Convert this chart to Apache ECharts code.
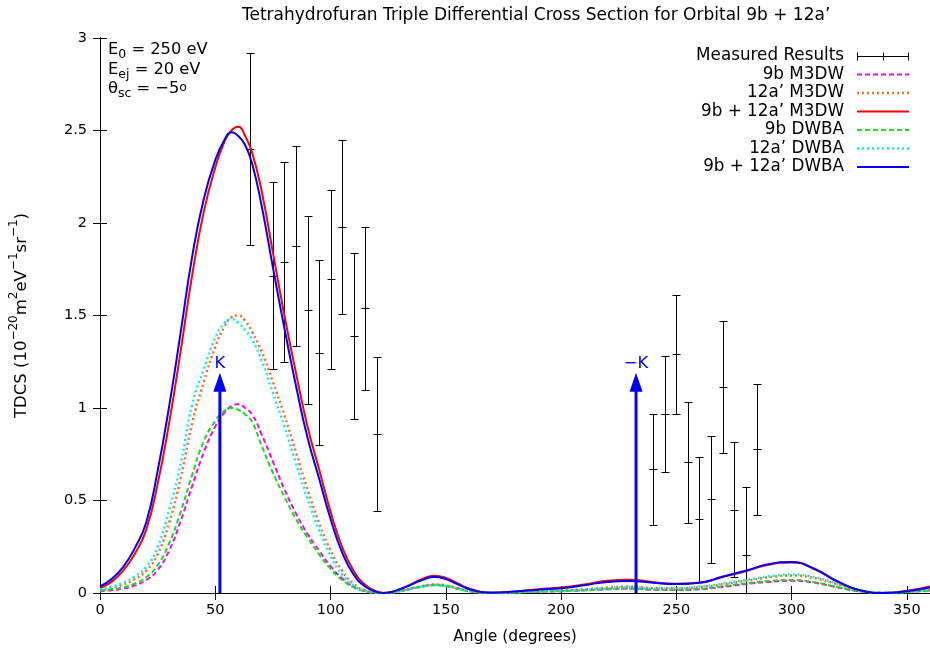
<!DOCTYPE html>
<html>
<head>
<meta charset="UTF-8">
<title>TDCS 9b + 12a'</title>
<style>
  html, body { margin: 0; padding: 0; background: #fff; }
  #main { width: 930px; height: 657px; }
</style>
</head>
<body>
<div id="main"></div>
<script src="https://cdn.jsdelivr.net/npm/echarts@6/dist/echarts.min.js"></script>
<script>
// theory grid (degrees)
var angles = [0,5,10,15,20,25,30,35,40,45,50,54,57,60,63,66,70,75,80,85,90,95,100,105,110,115,120,123,126,
  130,135,140,145,150,155,160,165,170,180,190,200,210,220,230,240,250,260,270,280,290,300,310,320,330,340,350,360];

var m3dw9b = [0.01,0.015,0.024,0.04,0.07,0.125,0.23,0.39,0.58,0.76,0.90,
  0.975,1.01,1.02,1.00,0.965,
  0.86,0.71,0.56,0.43,0.32,0.23,0.145,0.08,0.035,0.01,0.002,
  0.0,0.002,
  0.01,0.024,0.036,0.044,0.039,0.025,0.011,0.003,0.001,
  0.003,0.007,0.01,0.015,0.02,0.024,0.018,0.016,0.02,0.033,0.048,0.06,0.066,0.055,0.03,0.008,0.001,0.006,0.014];
var m3dw12a = [0.015,0.028,0.045,0.075,0.12,0.21,0.38,0.62,0.92,1.14,1.33,
  1.44,1.49,1.50,1.47,1.41,
  1.31,1.14,0.96,0.76,0.56,0.38,0.23,0.12,0.05,0.015,0.003,
  0.0,0.002,
  0.01,0.025,0.038,0.046,0.041,0.026,0.011,0.003,0.001,
  0.004,0.009,0.014,0.02,0.029,0.035,0.026,0.025,0.032,0.047,0.066,0.085,0.095,0.08,0.047,0.014,0.002,0.007,0.018];
var m3dwSum = [0.025,0.06,0.12,0.21,0.34,0.59,0.92,1.31,1.72,2.06,2.30,
  2.44,2.50,2.52,2.47,2.38,
  2.18,1.84,1.50,1.19,0.90,0.67,0.44,0.25,0.12,0.045,0.008,
  0.0,0.004,
  0.02,0.048,0.078,0.093,0.082,0.053,0.024,0.007,0.002,
  0.008,0.02,0.03,0.046,0.066,0.072,0.058,0.05,0.055,0.086,0.118,0.153,0.165,0.128,0.06,0.014,0.0,0.012,0.035];
var dwba9b = [0.015,0.02,0.03,0.05,0.085,0.15,0.27,0.44,0.64,0.82,0.93,
  0.985,1.00,0.99,0.965,0.925,
  0.80,0.65,0.52,0.40,0.30,0.21,0.13,0.07,0.03,0.008,0.001,
  0.0,0.003,
  0.01,0.022,0.035,0.042,0.037,0.023,0.01,0.003,0.001,
  0.003,0.007,0.01,0.014,0.02,0.024,0.018,0.018,0.022,0.036,0.052,0.065,0.07,0.058,0.032,0.008,0.001,0.005,0.012];
var dwba12a = [0.02,0.035,0.055,0.09,0.14,0.25,0.45,0.70,1.02,1.21,1.38,
  1.46,1.48,1.46,1.42,1.37,
  1.26,1.08,0.90,0.70,0.51,0.34,0.20,0.10,0.04,0.012,0.002,
  0.0,0.003,
  0.01,0.024,0.036,0.043,0.038,0.024,0.01,0.003,0.001,
  0.004,0.008,0.012,0.018,0.026,0.032,0.024,0.026,0.034,0.05,0.07,0.09,0.10,0.085,0.05,0.015,0.002,0.006,0.016];
var dwbaSum = [0.035,0.075,0.14,0.24,0.38,0.66,1.01,1.41,1.82,2.13,2.34,
  2.45,2.49,2.47,2.42,2.32,
  2.10,1.76,1.43,1.12,0.84,0.62,0.40,0.22,0.10,0.035,0.005,
  0.0,0.004,
  0.02,0.045,0.072,0.086,0.075,0.048,0.022,0.006,0.002,
  0.008,0.018,0.026,0.042,0.06,0.065,0.055,0.049,0.056,0.088,0.12,0.156,0.168,0.13,0.062,0.013,0.0,0.01,0.03];

// measured results
var measAngles = [65,75,80,85,90,95,100,105,110,115,120,240,245,250,255,260,265,270,275,280,285];
var measVals = [2.40,1.715,1.79,1.877,1.53,1.30,1.696,1.98,1.39,1.54,0.86,0.67,0.966,1.29,0.706,0.398,0.506,1.115,0.449,0.204,0.777];
var measErr = [0.52,0.505,0.54,0.54,0.51,0.50,0.485,0.47,0.45,0.44,0.417,0.30,0.314,0.32,0.326,0.337,0.345,0.357,0.365,0.369,0.353];

// K and -K directions
var kAngles = [52, 232.5];
var kHeights = [1.19, 1.19];
var kLabels = ['K', '\u2212K'];

var FONT = 'DejaVu Sans';

function pairs(vals) {
  return angles.map(function (a, i) { return [a, vals[i]]; });
}

function theory(name, vals, color, type, width) {
  return {
    name: name, type: 'line', data: pairs(vals), smooth: 0.5,
    symbol: 'none', clip: true, silent: true, animation: false,
    lineStyle: { color: color, width: width, type: type, cap: 'butt' }
  };
}

var myChart = echarts.init(document.getElementById('main'));

var axisCommon = {
  axisLine: { show: true, lineStyle: { color: '#000', width: 1 } },
  axisTick: { show: true, inside: true, length: 7, lineStyle: { color: '#000' } },
  splitLine: { show: false }
};

myChart.setOption({
  animation: false,
  title: {
    text: 'Tetrahydrofuran Triple Differential Cross Section for Orbital 9b + 12a\u2019',
    left: 237, top: 2,
    textStyle: { fontFamily: FONT, fontSize: 17, fontWeight: 'normal', color: '#000' }
  },
  grid: { left: 97, right: -2, top: 38, bottom: 64 },
  xAxis: [
    Object.assign({
      type: 'value', min: 0, max: 360, interval: 50, position: 'bottom',
      name: 'Angle (degrees)', nameLocation: 'middle', nameGap: 36,
      nameTextStyle: { fontFamily: FONT, fontSize: 15.5, color: '#000' },
      axisLabel: { fontFamily: FONT, fontSize: 14.5, color: '#000', margin: 10 }
    }, axisCommon),
    Object.assign({
      type: 'value', min: 0, max: 360, interval: 50, position: 'top',
      axisLabel: { show: false }
    }, axisCommon)
  ],
  yAxis: [
    Object.assign({
      type: 'value', min: 0, max: 3, interval: 0.5, position: 'left',
      name: '{n|TDCS (10}{s|\u221220}{n|m}{s|2}{n|eV}{s|\u22121}{n|sr}{s|\u22121}{n|)}',
      nameLocation: 'middle', nameGap: 70, nameRotate: 90,
      nameTextStyle: {
        fontFamily: FONT, color: '#000',
        rich: {
          n: { fontFamily: FONT, fontSize: 16.5, lineHeight: 22, verticalAlign: 'bottom', color: '#000' },
          s: { fontFamily: FONT, fontSize: 12, lineHeight: 13, verticalAlign: 'top', color: '#000' }
        }
      },
      axisLabel: { fontFamily: FONT, fontSize: 14.5, color: '#000', margin: 13 }
    }, axisCommon),
    Object.assign({
      type: 'value', min: 0, max: 3, interval: 0.5, position: 'right',
      axisLabel: { show: false }
    }, axisCommon)
  ],
  series: [
    {
      name: 'Measured Results', type: 'custom', clip: true, silent: true,
      data: measAngles.map(function (a, i) { return [a, measVals[i], measErr[i]]; }),
      renderItem: function (params, api) {
        var x = api.value(0), y = api.value(1), e = api.value(2);
        var c = api.coord([x, y]);
        var t = api.coord([x, y + e]);
        var b = api.coord([x, y - e]);
        var cx = Math.round(c[0]) + 0.5;
        var ty = Math.round(t[1]) + 0.5, by = Math.round(b[1]) + 0.5, cy = Math.round(c[1]) + 0.5;
        var st = { stroke: '#000', lineWidth: 1 };
        var w = 4;
        return {
          type: 'group',
          children: [
            { type: 'line', shape: { x1: cx, y1: ty, x2: cx, y2: by }, style: st },
            { type: 'line', shape: { x1: cx - w, y1: ty, x2: cx + w, y2: ty }, style: st },
            { type: 'line', shape: { x1: cx - w, y1: by, x2: cx + w, y2: by }, style: st },
            { type: 'line', shape: { x1: cx - w, y1: cy, x2: cx + w, y2: cy }, style: st }
          ]
        };
      }
    },
    theory('9b M3DW', m3dw9b, '#ff00ff', [5, 3], 2),
    theory('12a\u2019 M3DW', m3dw12a, '#ff6a1f', [2, 3], 2.5),
    theory('9b + 12a\u2019 M3DW', m3dwSum, '#ff0000', 'solid', 2),
    theory('9b DWBA', dwba9b, '#10e010', [5, 3], 2),
    theory('12a\u2019 DWBA', dwba12a, '#00f0ff', [2, 3], 2.5),
    theory('9b + 12a\u2019 DWBA', dwbaSum, '#0000ff', 'solid', 2),
    {
      name: 'K', type: 'custom', clip: false, silent: true, z: 5,
      data: kAngles.map(function (a, i) { return [a, kHeights[i], i]; }),
      renderItem: function (params, api) {
        var x = api.value(0), h = api.value(1), idx = api.value(2);
        var base = api.coord([x, 0]);
        var tip = api.coord([x, h]);
        var headH = 19, headW = 6.5;
        return {
          type: 'group',
          children: [
            { type: 'line', shape: { x1: base[0], y1: base[1], x2: tip[0], y2: tip[1] + headH - 2 },
              style: { stroke: '#0000ff', lineWidth: 3 } },
            { type: 'polygon', shape: { points: [[tip[0], tip[1]], [tip[0] - headW, tip[1] + headH], [tip[0] + headW, tip[1] + headH]] },
              style: { fill: '#0000ff' } },
            { type: 'text', x: tip[0], y: tip[1] - 1,
              style: { text: kLabels[idx], fill: '#0000ff', font: '16.5px "' + FONT + '"', align: 'center', verticalAlign: 'bottom' } }
          ]
        };
      }
    }
  ],
  graphic: [
    {
      type: 'text', left: 108, top: 42, z: 10,
      style: {
        text: '{n|E}{b|0}{n| = 250 eV}\n{n|E}{b|ej}{n| = 20 eV}\n{n|\u03b8}{b|sc}{n| = \u22125}{s|o}',
        fill: '#000',
        rich: {
          n: { fontFamily: FONT, fontSize: 16.3, lineHeight: 19.5, verticalAlign: 'top', fill: '#000' },
          b: { fontFamily: FONT, fontSize: 12.5, lineHeight: 12, verticalAlign: 'bottom', fill: '#000' },
          s: { fontFamily: FONT, fontSize: 12.5, lineHeight: 12, verticalAlign: 'top', fill: '#000' }
        }
      }
    }
  ].concat(buildLegend())
});

function buildLegend() {
  var items = [
    ['Measured Results', 'err', '#000', null, 1],
    ['9b M3DW', 'line', '#ff00ff', [5, 3], 2],
    ['12a\u2019 M3DW', 'line', '#ff6a1f', [2, 3], 2.5],
    ['9b + 12a\u2019 M3DW', 'line', '#ff0000', null, 2],
    ['9b DWBA', 'line', '#10e010', [5, 3], 2],
    ['12a\u2019 DWBA', 'line', '#00f0ff', [2, 3], 2.5],
    ['9b + 12a\u2019 DWBA', 'line', '#0000ff', null, 2]
  ];
  var out = [];
  var x0 = 857, x1 = 909, tx = 844, y0 = 56, dy = 18.5;
  items.forEach(function (it, i) {
    var y = y0 + i * dy;
    out.push({ type: 'text', x: tx, y: y, z: 10,
      style: { text: it[0], fill: '#000', font: '16.8px "' + FONT + '"', align: 'right', verticalAlign: 'middle' } });
    if (it[1] === 'err') {
      var st = { stroke: '#000', lineWidth: 1 };
      var yy = Math.round(y) + 0.5;
      out.push({ type: 'line', z: 10, shape: { x1: x0, y1: yy, x2: x1, y2: yy }, style: st });
      out.push({ type: 'line', z: 10, shape: { x1: x0 + 0.5, y1: yy - 4, x2: x0 + 0.5, y2: yy + 4 }, style: st });
      out.push({ type: 'line', z: 10, shape: { x1: x1 - 0.5, y1: yy - 4, x2: x1 - 0.5, y2: yy + 4 }, style: st });
      out.push({ type: 'line', z: 10, shape: { x1: 883.5, y1: yy - 4, x2: 883.5, y2: yy + 4 }, style: st });
    } else {
      out.push({ type: 'line', z: 10, shape: { x1: x0, y1: y, x2: x1, y2: y },
        style: { stroke: it[2], lineWidth: it[4], lineDash: it[3] || null } });
    }
  });
  return out;
}
</script>
</body>
</html>
